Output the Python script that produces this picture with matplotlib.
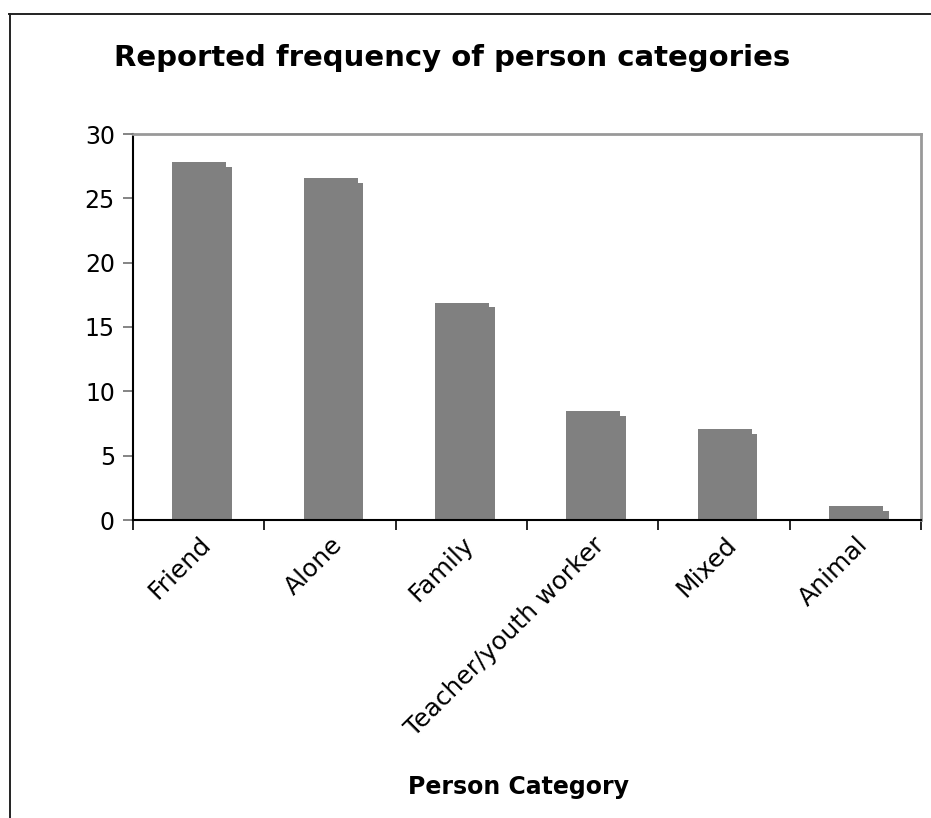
import matplotlib
matplotlib.use("Agg")
import matplotlib.pyplot as plt
from matplotlib.lines import Line2D
import numpy as np

categories = ["Friend", "Alone", "Family", "Teacher/youth worker", "Mixed", "Animal"]
frequency = [27.8, 26.6, 16.9, 8.5, 7.1, 1.1]

plt.rcParams["font.family"] = ["DejaVu Sans"]

fig = plt.figure(figsize=(9.31, 8.18), dpi=100)
ax = fig.add_axes([133 / 931, 1 - 520 / 818, 788 / 931, 386 / 818])

x = np.arange(len(categories))
vals = np.array(frequency)
bar_color = "#808080"
# shaded right-hand strip sits slightly lower than the bar face
ax.bar(x + 0.30, vals - 0.38, width=0.455, align="edge", color=bar_color, linewidth=0)
ax.bar(x + 0.30, vals, width=0.41, align="edge", color=bar_color, linewidth=0)

ax.set_xlim(0, len(categories))
ax.set_ylim(0, 30)
ax.set_yticks(np.arange(0, 31, 5))
ax.set_xticks(np.arange(0, len(categories) + 1))
ax.set_xticklabels([])
ax.set_xticks(x + 0.5, minor=True)
ax.set_xticklabels(categories, minor=True, rotation=45, ha="right",
                   rotation_mode="anchor", fontsize=18)
ax.tick_params(axis="x", which="minor", length=0, pad=9)
ax.tick_params(axis="x", which="major", length=7, width=1.2, color="#000000", direction="out")
ax.tick_params(axis="y", length=7, width=1.2, color="#707070", direction="out", labelsize=17, pad=6)

for side in ("left", "bottom"):
    ax.spines[side].set_color("#000000")
    ax.spines[side].set_linewidth(1.5)
for side in ("top", "right"):
    ax.spines[side].set_color("#999999")
    ax.spines[side].set_linewidth(2)

fig.text(0.5 * (108 + 796) / 931, 1 - 58 / 818, "Reported frequency of person categories",
         ha="center", va="center", fontsize=21, fontweight="bold")
fig.text(519 / 931, 1 - 787 / 818, "Person Category", ha="center", va="center",
         fontsize=17, fontweight="bold")

# outer chart border (top and left edges)
fig.add_artist(Line2D([9.5 / 931, 9.5 / 931], [0, 1 - 14 / 818], transform=fig.transFigure,
                      color="#222222", linewidth=1.4))
fig.add_artist(Line2D([9 / 931, 1], [1 - 14 / 818, 1 - 14 / 818], transform=fig.transFigure,
                      color="#222222", linewidth=1.4))

fig.savefig("out.png", dpi=100)
